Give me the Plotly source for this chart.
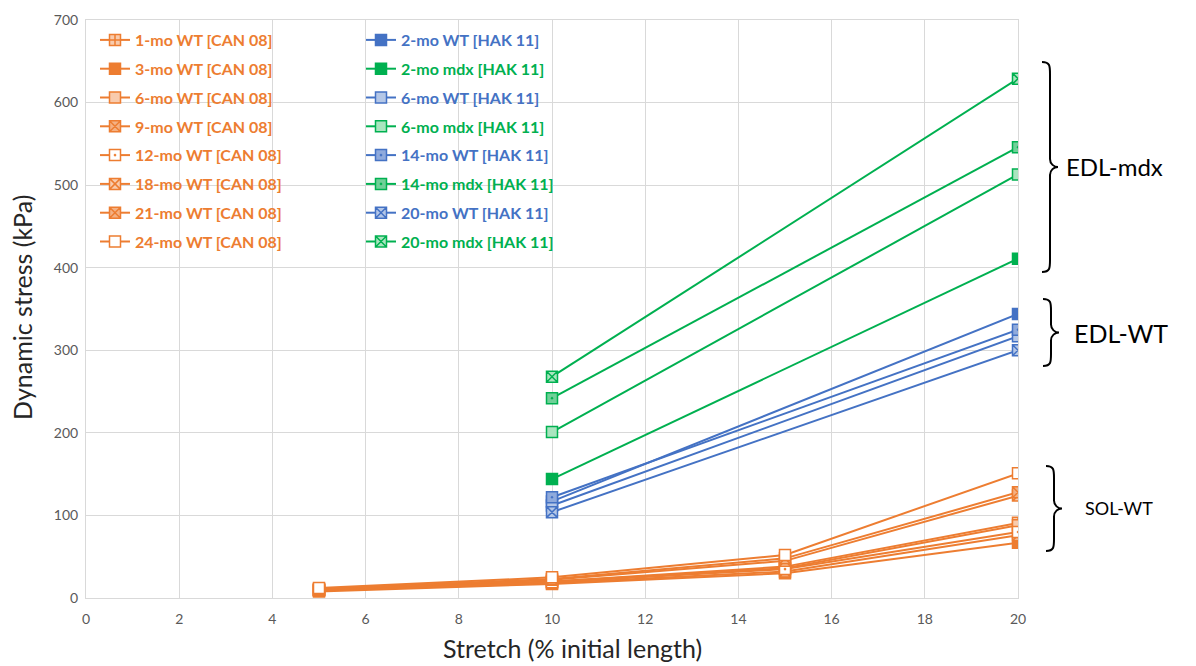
import plotly.graph_objects as go

# ---------------- data ----------------
can_x = [5, 10, 15, 20]
can_names = ["1-mo WT [CAN 08]", "3-mo WT [CAN 08]", "6-mo WT [CAN 08]", "9-mo WT [CAN 08]",
             "12-mo WT [CAN 08]", "18-mo WT [CAN 08]", "21-mo WT [CAN 08]", "24-mo WT [CAN 08]"]
can_1mo = [10, 20, 38, 91]
can_3mo = [8, 17, 30, 67]
can_6mo = [10, 20, 36, 88]
can_9mo = [9, 18, 32, 76]
can_12mo = [9, 19, 35, 80]
can_18mo = [10, 22, 45, 124]
can_21mo = [11, 23, 48, 128]
can_24mo = [12, 25, 52, 151]
can_values = [can_1mo, can_3mo, can_6mo, can_9mo, can_12mo, can_18mo, can_21mo, can_24mo]

hak_x = [10, 20]
hak_names = ["2-mo WT [HAK 11]", "2-mo mdx [HAK 11]", "6-mo WT [HAK 11]", "6-mo mdx [HAK 11]",
             "14-mo WT [HAK 11]", "14-mo mdx [HAK 11]", "20-mo WT [HAK 11]", "20-mo mdx [HAK 11]"]
hak_2mo_wt = [117, 344]
hak_2mo_mdx = [144, 411]
hak_6mo_wt = [112, 317]
hak_6mo_mdx = [201, 513]
hak_14mo_wt = [122, 325]
hak_14mo_mdx = [242, 546]
hak_20mo_wt = [104, 300]
hak_20mo_mdx = [268, 629]
hak_values = [hak_2mo_wt, hak_2mo_mdx, hak_6mo_wt, hak_6mo_mdx,
              hak_14mo_wt, hak_14mo_mdx, hak_20mo_wt, hak_20mo_mdx]

x_ticks = [0, 2, 4, 6, 8, 10, 12, 14, 16, 18, 20]
y_ticks = [0, 100, 200, 300, 400, 500, 600, 700]

# ---------------- styles ----------------
ORANGE, ORANGE_T, ORANGE_M = "#ED7D31", "#F8CBAD", "#F4B183"
BLUE, BLUE_T, BLUE_M = "#4472C4", "#B4C7E7", "#8FAADC"
GREEN, GREEN_T, GREEN_M = "#00B050", "#A9E5BF", "#70D098"

FONT = "Lato"

can_styles = [("square-cross", "t"), ("square", "s"), ("square", "t"), ("square-x", "m"),
              ("square-dot", "w"), ("square-x", "t"), ("square-x", "m"), ("square", "w")]
hak_styles = [("square", "s"), ("square", "s"), ("square", "t"), ("square", "t"),
              ("square-dot", "m"), ("square-dot", "m"), ("square-x", "t"), ("square-x", "t")]


def fill(kind, c, t, m):
    return {"s": c, "t": t, "m": m, "w": "white"}[kind]


fig = go.Figure()

for name, vals, (sym, kind) in zip(can_names, can_values, can_styles):
    fig.add_trace(go.Scatter(
        x=can_x, y=vals, name=name, mode="lines+markers",
        line=dict(color=ORANGE, width=2),
        marker=dict(symbol=sym, size=11, color=fill(kind, ORANGE, ORANGE_T, ORANGE_M),
                    line=dict(color=ORANGE, width=1.5)),
        legend="legend", legendgroup=name))

for i, (name, vals, (sym, kind)) in enumerate(zip(hak_names, hak_values, hak_styles)):
    if i % 2 == 0:
        c, t, m = BLUE, BLUE_T, BLUE_M
    else:
        c, t, m = GREEN, GREEN_T, GREEN_M
    fig.add_trace(go.Scatter(
        x=hak_x, y=vals, name=f"<span style='color:{c}'>{name}</span>", mode="lines+markers",
        line=dict(color=c, width=2),
        marker=dict(symbol=sym, size=11, color=fill(kind, c, t, m),
                    line=dict(color=c, width=1.5)),
        legend="legend2", legendgroup=name))

# ---------------- layout ----------------
OFF = 8  # page body margin
W, H = 1180, 658
L, T = 78, 12
PW, PH = 932, 578
R = W - L - PW
B = H - T - PH


def px(xs):
    """screen x -> paper x"""
    return (xs - OFF - L) / PW


def py(ys):
    """screen y -> paper y"""
    return (H - B - (ys - OFF)) / PH


def brace(x0, yt, yb, stem=8, tip=8):
    x1 = x0 + stem
    ym = (yt + yb) / 2
    pts = [
        f"M {px(x0)},{py(yt)}",
        f"C {px(x0 + stem)},{py(yt)} {px(x1)},{py(yt + 4)} {px(x1)},{py(yt + 12)}",
        f"L {px(x1)},{py(ym - 8)}",
        f"C {px(x1)},{py(ym - 3)} {px(x1 + tip / 2)},{py(ym)} {px(x1 + tip)},{py(ym)}",
        f"C {px(x1 + tip / 2)},{py(ym)} {px(x1)},{py(ym + 3)} {px(x1)},{py(ym + 8)}",
        f"L {px(x1)},{py(yb - 12)}",
        f"C {px(x1)},{py(yb - 4)} {px(x0 + stem)},{py(yb)} {px(x0)},{py(yb)}",
    ]
    return dict(type="path", path=" ".join(pts), xref="paper", yref="paper",
                line=dict(color="black", width=2))


shapes = [brace(1042, 62, 272), brace(1043, 299, 366), brace(1046, 466, 551)]


def label(text, xs, ys, size, **kw):
    d = dict(text=text, x=px(xs), y=py(ys), xref="paper", yref="paper", showarrow=False,
             xanchor="left", yanchor="middle", font=dict(family=FONT, size=size, color="black"))
    d.update(kw)
    return d


annotations = [
    label("EDL-mdx", 1064, 166, 24),
    label("EDL-WT", 1072, 333, 25),
    label("SOL-WT", 1083, 508, 18),
    dict(text="Stretch (% initial length)", x=px(572), y=py(648), xref="paper", yref="paper",
         xanchor="center", yanchor="middle", showarrow=False,
         font=dict(family=FONT, size=25, color="#262626")),
    dict(text="Dynamic stress (kPa)", x=px(22), y=py(308), xref="paper", yref="paper",
         xanchor="center", yanchor="middle", showarrow=False, textangle=-90,
         font=dict(family=FONT, size=25, color="#262626")),
]

grid = "#D9D9D9"
fig.update_layout(
    width=W, height=H,
    margin=dict(l=L, r=R, t=T, b=B, autoexpand=False),
    paper_bgcolor="white", plot_bgcolor="white",
    font=dict(family=FONT, size=14, color="#595959"),
    showlegend=True,
    legend=dict(x=px(95), y=py(23), xanchor="left", yanchor="top", bgcolor="rgba(0,0,0,0)",
                font=dict(family=FONT, size=16, color=ORANGE, weight="bold"),
                tracegroupgap=5, itemwidth=30),
    legend2=dict(x=px(361), y=py(23), xanchor="left", yanchor="top", bgcolor="rgba(0,0,0,0)",
                 font=dict(family=FONT, size=16, color=BLUE, weight="bold"),
                 tracegroupgap=5, itemwidth=30),
    xaxis=dict(range=[0, 20], tickvals=x_ticks, showgrid=True, gridcolor=grid, gridwidth=1,
               zeroline=False, showline=True, linecolor=grid, mirror=True, automargin=False,
               ticks="outside", ticklen=8, tickcolor="rgba(0,0,0,0)",
               tickfont=dict(family=FONT, size=14, color="#595959")),
    yaxis=dict(range=[0, 700], tickvals=y_ticks, showgrid=True, gridcolor=grid, gridwidth=1,
               zeroline=False, showline=True, linecolor=grid, mirror=True, automargin=False,
               ticks="outside", ticklen=4, tickcolor="rgba(0,0,0,0)",
               tickfont=dict(family=FONT, size=14, color="#595959")),
    shapes=shapes,
    annotations=annotations,
)

fig.write_html("out.html")
